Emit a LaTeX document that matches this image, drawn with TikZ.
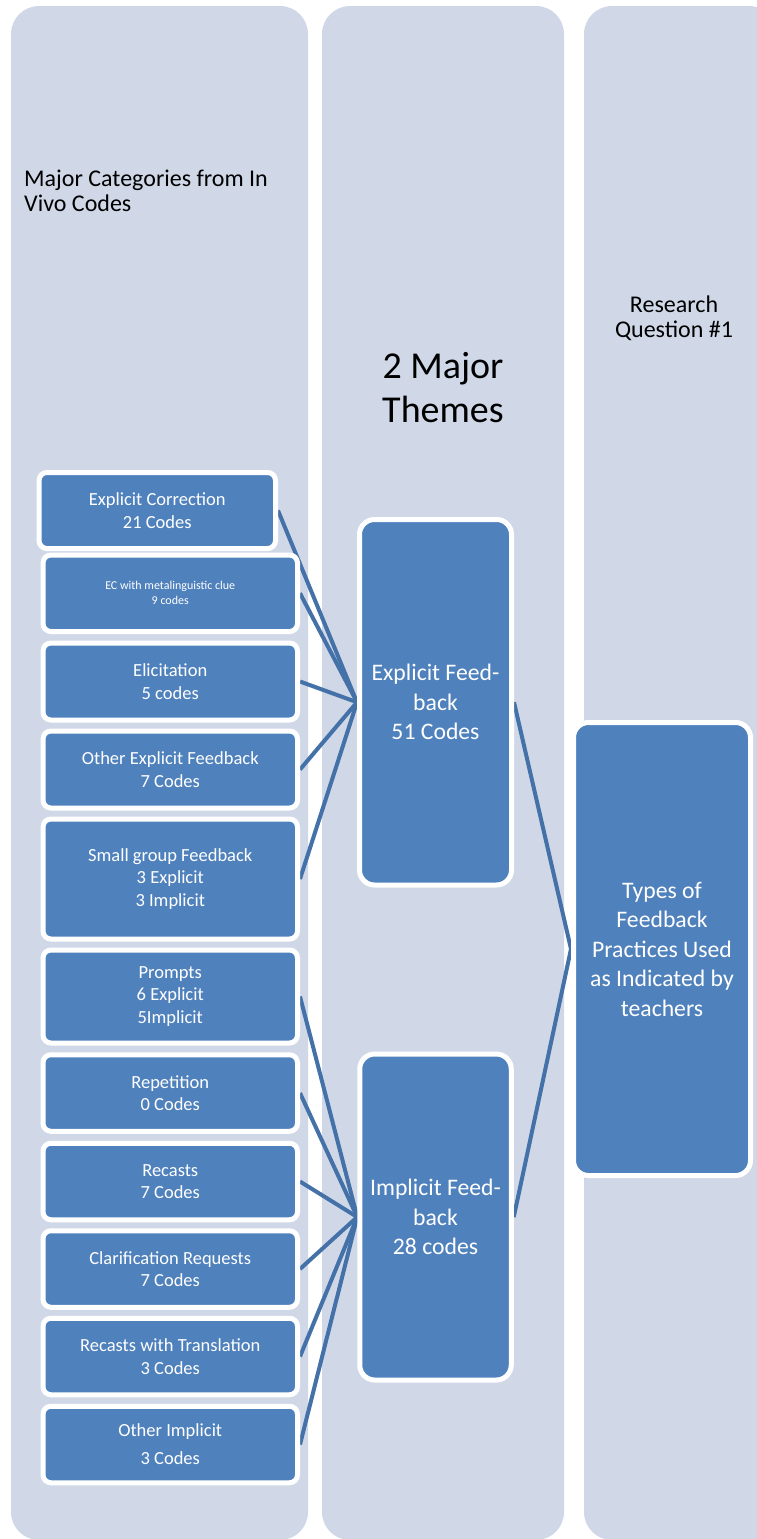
\documentclass[tikz,border=0pt]{standalone}
\usepackage{fontspec}
\setmainfont{Carlito}
\pgfdeclarelayer{cols}
\pgfdeclarelayer{links}
\pgfsetlayers{cols,links,main}
\definecolor{colbg}{HTML}{D0D8E8}
\definecolor{boxblue}{HTML}{4F81BD}
\definecolor{linkblue}{HTML}{4472A8}
\tikzset{
  catbox/.style={draw=white, line width=5pt, fill=boxblue, rounded corners=8pt,
    text=white, align=center, minimum width=254.5pt, minimum height=76.5pt,
    inner sep=0pt, font=\fontsize{18.5}{22.3}\selectfont},
  themebox/.style={draw=white, line width=5pt, fill=boxblue, rounded corners=15pt,
    text=white, align=center, inner sep=0pt, font=\fontsize{23.7}{29.5}\selectfont},
  link/.style={draw=linkblue, line width=4pt},
  colbox/.style={fill=colbg, rounded corners=28pt},
  headtext/.style={text=black, inner sep=0pt},
}
\begin{document}
\begin{tikzpicture}[x=1pt,y=-1pt]
\useasboundingbox (0,0) rectangle (757,1539);
% columns
\begin{pgfonlayer}{cols}
\fill[white] (0,0) rectangle (757,1539);
\begin{scope}
\clip (0,0) rectangle (757,1539);
\fill[colbox] (11,6) rectangle (308,1540);
\fill[colbox] (322,6) rectangle (564,1540);
\fill[colbox] (584,6) rectangle (777,1540);
\end{scope}
\end{pgfonlayer}
% headers (base anchor = baseline of last line)
\node[headtext, anchor=base west, align=left, font=\fontsize{24}{25}\selectfont] (h1) at (24,211) {Major Categories from In\\Vivo Codes};
\node[headtext, anchor=base, align=center, font=\fontsize{38}{44}\selectfont] (h2) at (443,422) {2 Major\\Themes};
\node[headtext, anchor=base, align=center, font=\fontsize{24}{25}\selectfont] (h3) at (674,337) {Research\\Question \#1};
% category boxes
\node[catbox, minimum width=236.5pt, minimum height=76pt] (c1) at (157.25,510.5) {Explicit Correction\\21 Codes};
\node[catbox, font=\fontsize{12}{15}\selectfont] (c2) at (170.25,593.25) {EC with metalinguistic clue\\9 codes};
\node[catbox, minimum height=77pt] (c3) at (170.25,681.5) {Elicitation\\5 codes};
\node[catbox, minimum height=77pt] (c4) at (170.25,769.5) {Other Explicit Feedback\\7 Codes};
\node[catbox, minimum height=120pt] (c5) at (170.25,879) {Small group Feedback\\3 Explicit\\3 Implicit};
\node[catbox, minimum height=93pt] (c6) at (170.25,996.5) {Prompts\\6 Explicit\\5Implicit};
\node[catbox] (c7) at (170.25,1093) {Repetition\\0 Codes};
\node[catbox] (c8) at (170.25,1181.5) {Recasts\\7 Codes};
\node[catbox] (c9) at (170.25,1269) {Clarification Requests\\7 Codes};
\node[catbox] (c10) at (170.25,1356.5) {Recasts with Translation\\3 Codes};
\node[catbox] (c11) at (170.25,1444.5) {Other Implicit\\[5.7pt]3 Codes};
% theme boxes
\node[themebox, minimum width=152pt, minimum height=365.5pt] (ex) at (435.5,702.25) {Explicit Feed-\\back\\51 Codes};
\node[themebox, minimum width=151.5pt, minimum height=326pt] (im) at (435.5,1217) {Implicit Feed-\\back\\28 codes};
\node[themebox, minimum width=177pt, minimum height=453pt] (ty) at (662,949) {Types of\\Feedback\\Practices Used\\as Indicated by\\teachers};
% links
\begin{pgfonlayer}{links}
\foreach \c in {c1,c2,c3,c4,c5} \draw[link] (\c.east) -- (ex.west);
\foreach \c in {c6,c7,c8,c9,c10,c11} \draw[link] (\c.east) -- (im.west);
\draw[link] (ex.east) -- (ty.west);
\draw[link] (im.east) -- (ty.west);
\end{pgfonlayer}
\end{tikzpicture}
\end{document}
